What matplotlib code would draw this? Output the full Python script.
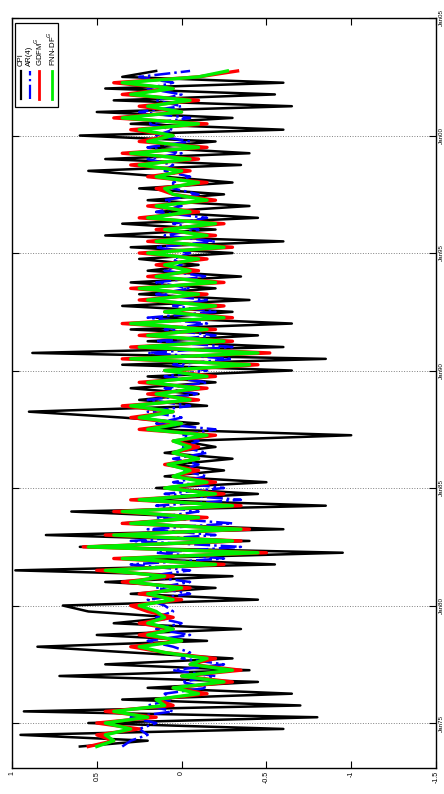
import numpy as np
import pandas as pd
import matplotlib
matplotlib.use('Agg')
import matplotlib.pyplot as plt
import matplotlib.dates as mdates
from matplotlib.patches import Rectangle

# quarterly observations 1974Q1 .. 2002Q4
quarters = pd.date_range('1974-01-01', periods=116, freq='QS')

cpi = [0.60, 0.20, 0.95, -0.60,  0.55, -0.80, 0.93, -0.70,  0.35, -0.65, 0.20, -0.45,
       0.72, -0.40, 0.45, -0.30,  0.30, 0.85, -0.15, 0.50,  -0.35, 0.40, 0.05, 0.55,
       0.70, -0.45, 0.30, -0.20,  0.45, -0.30, 0.98, -0.55,  0.30, -0.95, 0.60, -0.40,
       0.80, -0.60, 0.35, -0.15,  0.65, -0.85, 0.25, -0.45,  0.15, -0.50, 0.10, -0.25,
       0.05, -0.30, 0.10, -0.20,  0.00, -1.00, 0.15, -0.10,  0.35, 0.90, -0.15, 0.25,
       -0.10, 0.30, -0.20, 0.20,  -0.65, 0.35, -0.85, 0.88,  -0.60, 0.20, -0.45, 0.30,
       -0.65, 0.15, -0.30, 0.35,  -0.40, 0.25, -0.20, 0.30,  -0.35, 0.20, -0.10, 0.25,
       -0.30, 0.30, -0.60, 0.45,  -0.20, 0.35, -0.45, 0.15,  -0.40, 0.20, -0.25, 0.25,
       -0.30, 0.10, 0.55, -0.35,  0.45, -0.40, 0.20, -0.20,  0.60, -0.60, 0.30, -0.30,
       0.50, -0.65, 0.40, -0.55,  0.45, -0.60, 0.35, 0.15]

ar4 = [0.35, 0.30, 0.20, 0.25,  0.15, 0.30, 0.05, 0.20,  0.05, 0.10, -0.15, 0.00,
       -0.20, 0.05, -0.25, 0.00,  -0.05, 0.05, 0.20, -0.05,  0.15, 0.00, 0.15, 0.05,
       0.10, 0.20, -0.05, 0.15,  -0.05, 0.20, -0.05, 0.30,  -0.25, 0.15, -0.35, 0.30,
       -0.20, 0.20, -0.30, 0.15,  -0.10, 0.15, -0.35, 0.10,  -0.25, 0.05, -0.15, 0.00,
       -0.10, 0.05, -0.15, 0.00,  -0.10, 0.00, -0.20, 0.15,  0.00, 0.20, -0.05, 0.20,
       -0.10, 0.10, -0.15, 0.10,  -0.15, 0.05, -0.30, 0.20,  -0.30, 0.15, -0.20, 0.10,
       -0.15, 0.20, -0.20, 0.05,  -0.15, 0.15, -0.05, 0.15,  -0.15, 0.10, 0.00, 0.05,
       -0.05, 0.15, -0.20, 0.10,  -0.10, 0.05, -0.15, 0.15,  0.00, 0.10, -0.10, 0.05,
       0.05, -0.05, 0.10, 0.05,  0.20, 0.00, 0.20, -0.05,  0.15, 0.05, 0.20, -0.05,
       0.25, 0.00, 0.15, 0.00,  0.20, 0.05, 0.25, -0.05]

gdfm = [0.55, 0.40, 0.50, 0.25,  0.50, 0.15, 0.45, 0.05,  0.15, -0.15, 0.05, -0.30,
        0.00, -0.35, -0.05, -0.20,  0.10, 0.30, 0.00, 0.25,  0.05, 0.25, 0.05, 0.20,
        0.30, 0.00, 0.25, -0.05,  0.35, 0.05, 0.50, -0.25,  0.40, -0.50, 0.58, -0.35,
        0.45, -0.40, 0.35, -0.15,  0.40, -0.35, 0.30, -0.25,  0.10, -0.20, 0.05, -0.10,
        0.10, -0.10, 0.05, -0.10,  0.05, -0.20, 0.25, 0.00,  0.30, 0.05, 0.35, -0.10,
        0.20, -0.15, 0.25, -0.20,  0.10, -0.45, 0.35, -0.52,  0.30, -0.30, 0.25, -0.20,
        0.35, -0.30, 0.10, -0.25,  0.25, -0.15, 0.30, -0.25,  0.20, -0.10, 0.15, -0.15,
        0.25, -0.30, 0.20, -0.20,  0.15, -0.25, 0.25, -0.10,  0.20, -0.20, 0.05, 0.15,
        -0.15, 0.20, -0.05, 0.30,  -0.10, 0.35, -0.15, 0.25,  0.05, 0.30, -0.15, 0.40,
        0.00, 0.25, -0.10, 0.35,  0.05, 0.40, -0.10, -0.33]

fnn = [0.50, 0.40, 0.45, 0.30,  0.45, 0.20, 0.40, 0.10,  0.15, -0.10, 0.05, -0.25,
       0.00, -0.30, -0.05, -0.15,  0.10, 0.25, 0.00, 0.20,  0.05, 0.20, 0.10, 0.15,
       0.25, 0.05, 0.20, 0.00,  0.30, 0.10, 0.45, -0.20,  0.35, -0.45, 0.55, -0.30,
       0.40, -0.35, 0.30, -0.10,  0.35, -0.30, 0.25, -0.20,  0.10, -0.15, 0.05, -0.05,
       0.08, -0.10, 0.05, -0.05,  0.05, -0.15, 0.20, 0.00,  0.25, 0.05, 0.30, -0.05,
       0.15, -0.10, 0.20, -0.15,  0.10, -0.40, 0.30, -0.45,  0.25, -0.25, 0.20, -0.15,
       0.30, -0.25, 0.10, -0.20,  0.20, -0.10, 0.25, -0.20,  0.15, -0.05, 0.10, -0.10,
       0.20, -0.25, 0.15, -0.15,  0.10, -0.20, 0.20, -0.05,  0.15, -0.15, 0.05, 0.10,
       -0.10, 0.15, 0.00, 0.25,  -0.05, 0.30, -0.10, 0.20,  0.05, 0.25, -0.10, 0.35,
       0.00, 0.20, -0.05, 0.30,  0.05, 0.35, -0.10, -0.27]

series_names = ['CPI', 'AR(4)', 'GDFM$^G$', 'FNN-DF$^G$']
series_colors = ['black', 'blue', 'red', '#00ee00']
series_styles = ['-', '-.', '-', '-']

value_ticks = [1, 0.5, 0, -0.5, -1, -1.5]
value_ticklabels = ['1', '0.5', '0', '-0.5', '-1', '-1.5']
date_ticks = pd.to_datetime(['1975-01-01', '1980-01-01', '1985-01-01', '1990-01-01',
                             '1995-01-01', '2000-01-01', '2005-01-01'])

plt.rcParams['font.family'] = ['Liberation Sans', 'DejaVu Sans']

fig = plt.figure(figsize=(4.44, 7.94), dpi=100)
ax = fig.add_axes([12/444, 26/794, 424/444, 750/794])

ax.plot(cpi, quarters, color=series_colors[0], ls=series_styles[0], lw=1.8, zorder=2)
ax.plot(ar4, quarters, color=series_colors[1], ls=series_styles[1], lw=1.8, zorder=3)
ax.plot(gdfm, quarters, color=series_colors[2], ls=series_styles[2], lw=2.4, zorder=4)
ax.plot(fnn, quarters, color=series_colors[3], ls=series_styles[3], lw=2.4, zorder=5)

ax.set_xlim(1, -1.5)
ax.set_ylim(pd.Timestamp('1973-02-01'), pd.Timestamp('2005-01-01'))
ax.set_xticks(value_ticks)
ax.set_xticklabels(value_ticklabels, rotation=90, fontsize=5)
ax.set_yticks(date_ticks)
ax.yaxis.set_major_formatter(mdates.DateFormatter('%b%y'))
ax.yaxis.tick_right()
for lab in ax.get_yticklabels():
    lab.set_rotation(90)
    lab.set_va('center')
    lab.set_fontsize(4.5)
ax.tick_params(direction='in', length=5, width=0.8, top=True, bottom=True,
               left=True, right=True, labelleft=False, labelright=True, pad=2,
               colors='black')
ax.grid(axis='y', ls=':', color='grey', lw=0.7)
for sp in ax.spines.values():
    sp.set_linewidth(1.0)

# legend drawn by hand, rotated like the rest of the figure
ax.add_patch(Rectangle((0.0071, 0.8813), 0.1020, 0.112, transform=ax.transAxes,
                       facecolor='white', edgecolor='black', lw=0.9, zorder=10))
leg_x = [0.0205, 0.0420, 0.0640, 0.0940]
for k in range(4):
    ax.plot([leg_x[k], leg_x[k]], [0.892, 0.930], transform=ax.transAxes,
            color=series_colors[k], ls=series_styles[k],
            lw=1.6 if k < 2 else 2.0, zorder=11)
    ax.text(leg_x[k], 0.936, series_names[k], transform=ax.transAxes, rotation=90,
            ha='center', va='bottom', fontsize=5.6, zorder=12)

fig.savefig('out.png', dpi=100)
